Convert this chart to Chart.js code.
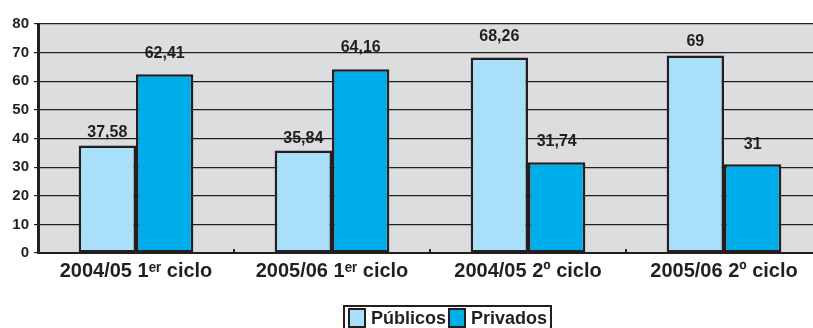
<!DOCTYPE html>
<html>
<head>
<meta charset="utf-8">
<script src="https://cdn.jsdelivr.net/npm/chart.js@4"></script>
<style>
  html, body { margin: 0; padding: 0; background: #fff; overflow: hidden; }
  .wrap { position: relative; width: 822px; height: 328px; }
  .legend {
    position: absolute; left: 343px; top: 305px; height: 28px;
    border: 2px solid #231f20; border-bottom: none; box-sizing: border-box;
    display: flex; align-items: flex-start; padding: 1px 1px 0 3px;
    font: bold 18px "Liberation Sans", Arial, sans-serif; color: #231f20;
  }
  .legend .sw {
    display: inline-block; width: 18px; height: 20px; box-sizing: border-box;
    border: 2px solid #231f20; margin-right: 5px;
  }
  .legend .item { display: flex; align-items: flex-start; margin-right: 2px; line-height: 21px; }
</style>
</head>
<body>
<div class="wrap">
  <canvas id="c"></canvas>
  <div class="legend" id="legend"></div>
</div>
<script>
/* ── Data ─────────────────────────────── */
const categories = ['2004/05 1ᵉʳ ciclo', '2005/06 1ᵉʳ ciclo', '2004/05 2º ciclo', '2005/06 2º ciclo'];
const publicos   = [37.58, 35.84, 68.26, 69];
const privados   = [62.41, 64.16, 31.74, 31];
const yTicks     = [0, 10, 20, 30, 40, 50, 60, 70, 80];

/* label lift above each bar (px), as placed in the original */
const liftPub  = [13, 12, 21, 14];
const liftPriv = [21, 22, 21, 20];

const INK = '#231f20';
const FONT = '"Liberation Sans", Arial, sans-serif';

/* ── Plugins ──────────────────────────── */
const plotBg = {
  id: 'plotBg',
  beforeDraw(chart) {
    const { ctx, chartArea: a } = chart;
    ctx.save();
    ctx.fillStyle = '#dcdddf';
    ctx.fillRect(a.left, a.top, a.right - a.left, a.bottom - a.top);
    ctx.restore();
  }
};

const valueLabels = {
  id: 'valueLabels',
  afterDatasetsDraw(chart) {
    const { ctx } = chart;
    ctx.save();
    ctx.font = 'bold 16px ' + FONT;
    ctx.fillStyle = INK;
    ctx.textAlign = 'center';
    ctx.textBaseline = 'middle';
    chart.data.datasets.forEach((ds, di) => {
      const lifts = di === 0 ? liftPub : liftPriv;
      chart.getDatasetMeta(di).data.forEach((bar, i) => {
        const txt = String(ds.data[i]).replace('.', ',');
        ctx.fillText(txt, bar.x, bar.y - lifts[i]);
      });
    });
    ctx.restore();
  }
};

/* small marks between categories on the x axis */
const catMarks = {
  id: 'catMarks',
  afterDraw(chart) {
    const { ctx, chartArea: a } = chart;
    const x = chart.scales.x;
    ctx.save();
    ctx.fillStyle = INK;
    for (let i = 1; i < categories.length; i++) {
      const px = (x.getPixelForValue(i - 1) + x.getPixelForValue(i)) / 2;
      ctx.fillRect(Math.round(px) - 1, a.bottom - 4, 2, 4);
    }
    ctx.restore();
  }
};

/* ── Chart ────────────────────────────── */
const chart = new Chart(document.getElementById('c'), {
  type: 'bar',
  data: {
    labels: categories,
    datasets: [
      { label: 'Públicos', data: publicos, backgroundColor: '#aadff9', borderColor: INK, borderWidth: 2.5, borderSkipped: false },
      { label: 'Privados', data: privados, backgroundColor: '#00adeb', borderColor: INK, borderWidth: 2.5, borderSkipped: false }
    ]
  },
  options: {
    responsive: true,
    maintainAspectRatio: false,
    animation: false,
    layout: { padding: { top: 24, bottom: 47, left: 0, right: 0 } },
    datasets: { bar: { categoryPercentage: 0.585, barPercentage: 1 } },
    plugins: { legend: { display: false }, tooltip: { enabled: false } },
    scales: {
      x: {
        grid: { display: false },
        border: { display: true, color: INK, width: 2 },
        ticks: { color: INK, font: { family: FONT, size: 20, weight: 'bold' }, padding: -2, maxRotation: 0 }
      },
      y: {
        min: 0, max: 80,
        afterFit(s) { s.width = 38; },
        afterBuildTicks(s) { s.ticks = yTicks.map(v => ({ value: v })); },
        grid: { color: INK, lineWidth: 1.2, tickLength: 4 },
        border: { display: true, color: INK, width: 3 },
        ticks: { color: INK, font: { family: FONT, size: 15, weight: 'bold' }, padding: 5 }
      }
    }
  },
  plugins: [plotBg, valueLabels, catMarks]
});

/* ── Legend ───────────────────────────── */
const leg = document.getElementById('legend');
chart.data.datasets.forEach(ds => {
  const it = document.createElement('span');
  it.className = 'item';
  it.innerHTML = '<span class="sw" style="background:' + ds.backgroundColor + '"></span>' + ds.label;
  leg.appendChild(it);
});
</script>
</body>
</html>
